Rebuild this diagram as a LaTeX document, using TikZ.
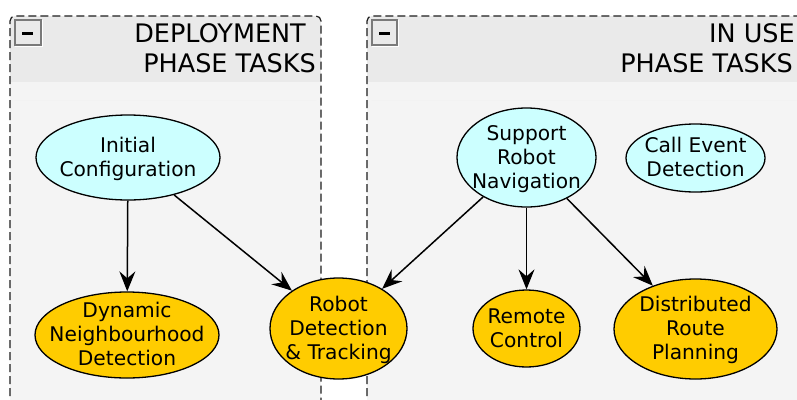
\documentclass[tikz,border=0pt]{standalone}
\usepackage{fontspec}
\setmainfont{DejaVu Sans}
\usetikzlibrary{shapes.geometric,arrows.meta}

\definecolor{headgray}{HTML}{EAEAEA}
\definecolor{bodygray}{HTML}{F4F4F4}
\definecolor{taskcyan}{HTML}{CCFFFF}
\definecolor{taskgold}{HTML}{FFCC00}
\definecolor{frameline}{HTML}{1E1E1E}
\definecolor{btngray}{HTML}{7A7A7A}

% centred label of zero size, so the ellipse keeps its given dimensions
\newcommand{\tasklabel}[1]{\makebox[0pt]{\raisebox{-7.3pt}[0pt][0pt]{%
  \begin{tabular}{@{}c@{}}#1\end{tabular}}}}

\tikzset{
  task/.style={ellipse, draw=black, line width=1.3pt, inner sep=0pt,
    font=\fontsize{20.2}{24}\selectfont},
  setup/.style={task, fill=taskcyan},
  work/.style={task, fill=taskgold},
  flowtip/.tip={Stealth[length=20pt 0 0, width=16pt 0 0, inset=7pt]},
  flow/.style={draw=black, line width=1.5pt, -flowtip},
  phaseframe/.style={draw=frameline, line width=1.2pt,
    dash pattern=on 8pt off 4pt, rounded corners=5pt},
  phasetitle/.style={inner sep=0pt, font=\fontsize{25.5}{30}\selectfont},
  button/.style={draw=btngray, fill=headgray, line width=1.2pt}
}

\begin{document}
\begin{tikzpicture}[x=1pt, y=-1pt]
\useasboundingbox (0,0) rectangle (797,399);
\clip (0,0) rectangle (797,399);
\fill[white] (0,0) rectangle (797,399);

% deployment phase frame
\fill[bodygray] (10,82) rectangle (321,420);
\fill[headgray, rounded corners=5pt] (10,100) -- (10,16) -- (321,16) -- (321,100) -- cycle;
\fill[bodygray] (10,82) rectangle (321,100);
\draw[phaseframe] (10,420) -- (10,16) -- (321,16) -- (321,420);

% in-use phase frame
\fill[bodygray] (367,82) rectangle (820,420);
\fill[headgray, rounded corners=5pt] (367,100) -- (367,16) -- (820,16) -- (820,100) -- cycle;
\fill[bodygray] (367,82) rectangle (820,100);
\draw[phaseframe] (367,420) -- (367,16) -- (820,16) -- (820,420);

% collapse buttons
\draw[white, line width=1pt] (42,20) -- (42,46) -- (15,46);
\draw[button] (15,20) rectangle (41,45);
\fill[black] (22,31.5) rectangle (33,34.5);
\draw[white, line width=1pt] (398,20) -- (398,46) -- (372,46);
\draw[button] (372,20) rectangle (397,45);
\fill[black] (378.5,31.5) rectangle (389.5,34.5);

% frame titles
\node[phasetitle, anchor=base east] (depA) at (306,42) {DEPLOYMENT};
\node[phasetitle, anchor=base east] (depB) at (316,72) {PHASE TASKS};
\node[phasetitle, anchor=base east] (useA) at (795,42) {IN USE};
\node[phasetitle, anchor=base east] (useB) at (793,72) {PHASE TASKS};

% tasks
\node[setup, minimum width=184pt, minimum height=85pt] (init) at (128,157.5)
  {\tasklabel{Initial\\Configuration}};
\node[work, minimum width=184pt, minimum height=86pt] (dyn) at (127,335)
  {\tasklabel{Dynamic\\Neighbourhood\\Detection}};
\node[work, minimum width=137pt, minimum height=101pt] (robot) at (338.5,328.5)
  {\tasklabel{Robot\\Detection\\\& Tracking}};
\node[setup, minimum width=139pt, minimum height=99pt] (nav) at (526.5,157.5)
  {\tasklabel{Support\\Robot\\Navigation}};
\node[setup, minimum width=139pt, minimum height=68pt] (call) at (695.5,158)
  {\tasklabel{Call Event\\Detection}};
\node[work, minimum width=107pt, minimum height=77pt] (remote) at (526.5,328.5)
  {\tasklabel{Remote\\Control}};
\node[work, minimum width=163pt, minimum height=100pt] (route) at (695.5,329)
  {\tasklabel{Distributed\\Route\\Planning}};

% dependencies
\draw[flow] (init) -- (dyn);
\draw[flow] (init) -- (robot);
\draw[flow] (nav) -- (robot);
\draw[flow] (nav) -- (remote);
\draw[flow] (nav) -- (route);
\end{tikzpicture}
\end{document}
